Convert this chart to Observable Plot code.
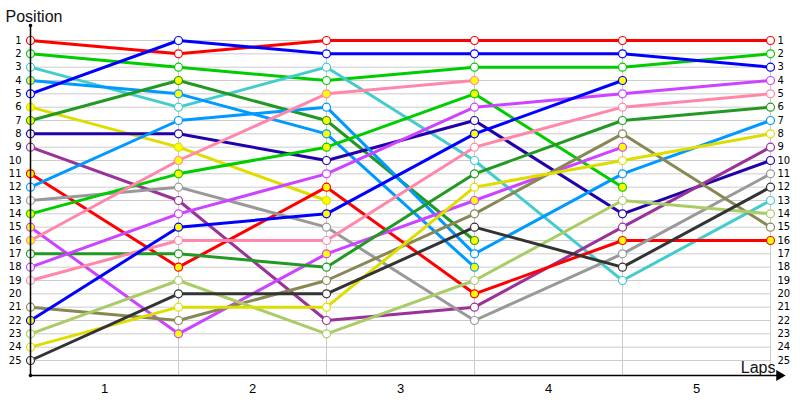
<!DOCTYPE html>
<html><head><meta charset="utf-8">
<script src="https://cdn.jsdelivr.net/npm/d3@7"></script>
<script src="https://cdn.jsdelivr.net/npm/@observablehq/plot@0.6"></script>
<style>body{margin:0;background:#fff}</style>
</head><body><div id="chart"></div>
<script>
// laps 0..5, position per lap (null = retired)
const laps = [0, 1, 2, 3, 4, 5];
const lapLabels = [1, 2, 3, 4, 5];
const positionTicks = d3.range(1, 26);

const driverNames  = ["red1","green1","cyan","lightblueY","blue1","yellowY","dkgreenY","navy","purple","redY","lightblueW","gray","greenY","violetY","pinkY","dkgreenW","violetW","pinkW","olive","blueY","lightgreen","yellowW","black"];
const driverColors = ["#ff0000","#00cc00","#44cccc","#0099ff","#0000ff","#dddd00","#229922","#2200aa","#993399","#ff0000","#0099ff","#999999","#00cc00","#cc44ff","#ff88aa","#229922","#cc44ff","#ff88aa","#888855","#0000ff","#aacc66","#dddd00","#333333"];
const driverFills  = ["white","white","white","#ffff00","white","#ffff00","#ffff00","white","white","#ffff00","white","white","#ffff00","#ffff00","#ffff00","white","white","white","white","#ffff00","white","white","white"];

const red1       = [1, 2, 1, 1, 1, 1];
const green1     = [2, 3, 4, 3, 3, 2];
const cyan       = [3, 6, 3, 10, 19, 13];
const lightblueY = [4, 5, 8, 18, null, null];
const blue1      = [5, 1, 2, 2, 2, 3];
const yellowY    = [6, 9, 13, null, null, null];
const dkgreenY   = [7, 4, 7, 16, null, null];
const navy       = [8, 8, 10, 7, 14, 10];
const purple     = [9, 13, 22, 21, 15, 9];
const redY       = [11, 18, 12, 20, 16, 16];
const lightblueW = [12, 7, 6, 17, 11, 7];
const gray       = [13, 12, 15, 22, 17, 11];
const greenY     = [14, 11, 9, 5, 12, null];
const violetY    = [15, 23, 17, 13, 9, null];
const pinkY      = [16, 10, 5, 4, null, null];
const dkgreenW   = [17, 17, 18, 11, 7, 6];
const violetW    = [18, 14, 11, 6, 5, 4];
const pinkW      = [19, 16, 16, 9, 6, 5];
const olive      = [21, 22, 19, 14, 8, 15];
const blueY      = [22, 15, 14, 8, 4, null];
const lightgreen = [23, 19, 23, 19, 13, 14];
const yellowW    = [24, 21, 21, 12, 10, 8];
const black      = [25, 20, 20, 15, 18, 12];

const series = [red1, green1, cyan, lightblueY, blue1, yellowY, dkgreenY, navy, purple, redY, lightblueW, gray, greenY, violetY, pinkY, dkgreenW, violetW, pinkW, olive, blueY, lightgreen, yellowW, black];

const rows = [];
series.forEach((s, i) => s.forEach((p, lap) => {
  if (p != null) rows.push({driver: driverNames[i], lap: laps[lap], pos: p, color: driverColors[i], fill: driverFills[i]});
}));

const yMin = -0.125, yMax = 26.125;
const font = "Liberation Sans, Arial, sans-serif";

const chart = Plot.plot({
  width: 800, height: 400,
  marginLeft: 30, marginRight: 30, marginTop: 25, marginBottom: 25,
  style: {fontFamily: "DejaVu Sans, sans-serif", background: "white"},
  x: {domain: [0, 5], axis: null},
  y: {domain: [yMin, yMax], range: [25, 375], axis: null},
  color: {type: "identity"},
  marks: [
    Plot.ruleY(positionTicks, {x1: 0, x2: 5, stroke: "#cccccc", strokeWidth: 1}),
    Plot.ruleX(lapLabels, {y1: 1, y2: yMax, stroke: "#cccccc", strokeWidth: 1}),
    Plot.axisY(positionTicks, {anchor: "left", tickSize: 0, tickPadding: 9, fontSize: 10, label: null}),
    Plot.axisY(positionTicks, {anchor: "right", tickSize: 0, tickPadding: 7, fontSize: 10, label: null}),
    Plot.text(lapLabels, {x: d => d - 0.5, y: yMax, dy: 13, text: d => String(d), fontSize: 13, fontFamily: font}),
    Plot.line(rows, {x: "lap", y: "pos", z: "driver", stroke: "color", strokeWidth: 3}),
    Plot.dot(rows, {x: "lap", y: "pos", stroke: "color", fill: "fill", r: 4, strokeWidth: 1.2}),
    Plot.ruleX([0], {y1: yMin, y2: yMax, stroke: "black", strokeWidth: 1.5}),
    Plot.ruleY([yMax], {x1: 0, x2: 5.05, stroke: "black", strokeWidth: 1.5}),
    Plot.dot([{x: 5.06, y: yMax}], {x: "x", y: "y", symbol: "triangle", rotate: 90, fill: "black", r: 4}),
    Plot.dot([{x: 0, y: yMin}, {x: 0, y: yMax}], {x: "x", y: "y", fill: "black", r: 1.8}),
    Plot.text(["Position"], {frameAnchor: "top-left", dx: -25, dy: -4, lineAnchor: "bottom", textAnchor: "start", fontSize: 16, fontFamily: font, fill: "#111"}),
    Plot.text(["Laps"], {frameAnchor: "bottom-right", dx: 5, dy: -3, lineAnchor: "bottom", textAnchor: "end", fontSize: 16, fontFamily: font, fill: "#111"})
  ]
});
document.getElementById("chart").appendChild(chart);
</script>
</body></html>
